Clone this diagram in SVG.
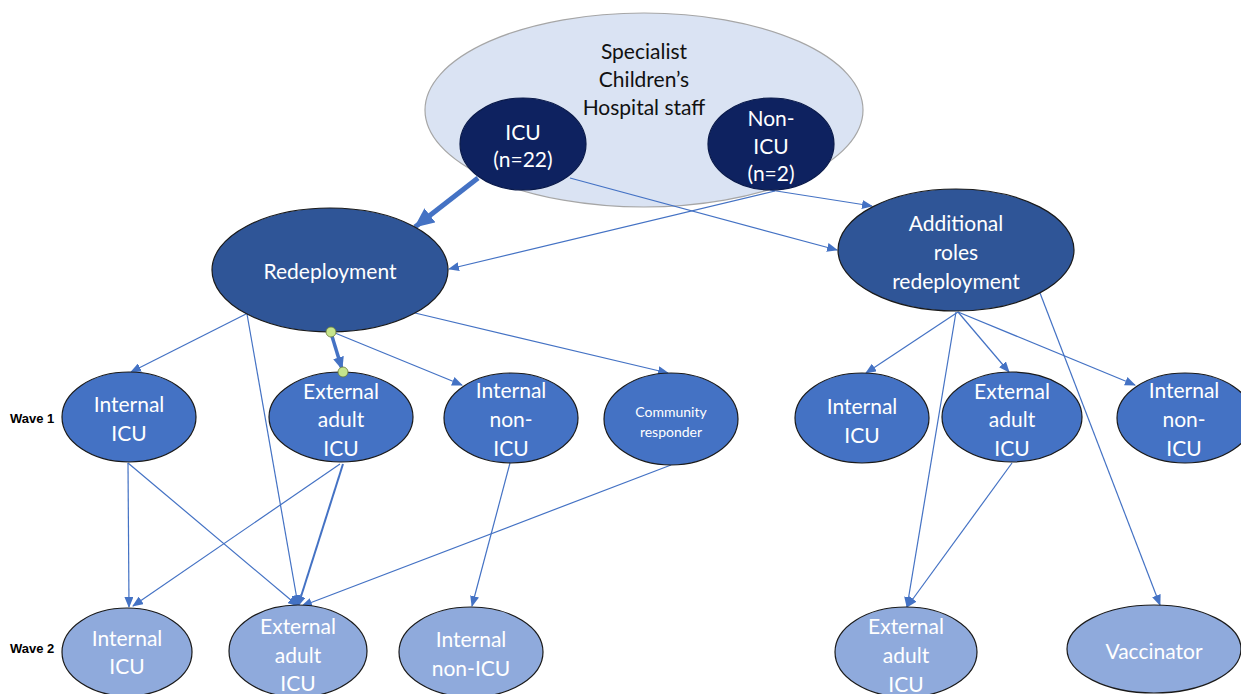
<svg xmlns="http://www.w3.org/2000/svg" width="1241" height="694" viewBox="0 0 1241 694">
<defs>
<marker id="a" markerUnits="userSpaceOnUse" markerWidth="11" markerHeight="9" refX="10" refY="4.5" orient="auto"><path d="M0,0 L11,4.5 L0,9 z" fill="#4472c4"/></marker>
<marker id="am" markerUnits="userSpaceOnUse" markerWidth="13" markerHeight="11" refX="12" refY="5.5" orient="auto"><path d="M0,0 L13,5.5 L0,11 z" fill="#4472c4"/></marker>
<marker id="ab" markerUnits="userSpaceOnUse" markerWidth="20" markerHeight="18" refX="19" refY="9" orient="auto"><path d="M0,0 L20,9 L0,18 z" fill="#4472c4"/></marker>
</defs>
<style>
text{font-family:Lato,"Open Sans","Liberation Sans",sans-serif;text-anchor:middle;dominant-baseline:central}
.w{fill:#ffffff;font-size:21px}
.k{fill:#111111;font-size:21px}
.cr{fill:#ffffff;font-size:14px}
.lab{font-family:"Liberation Sans",Arial,sans-serif;font-weight:bold;font-size:13px;fill:#000;text-anchor:start}
.nv{fill:#0e2260;stroke:#0a1a4a;stroke-width:1.2}
.rd{fill:#2f5597;stroke:#1a1a1a;stroke-width:1.2}
.w1{fill:#4472c4;stroke:#1a1a1a;stroke-width:1.2}
.w2{fill:#8faadc;stroke:#1a1a1a;stroke-width:1.2}
.c{stroke:#4472c4;stroke-width:1.2;fill:none;marker-end:url(#a)}
</style>
<rect width="1241" height="694" fill="#ffffff"/>

<g id="specialist">
<ellipse cx="644" cy="110" rx="219" ry="97" fill="#dae3f3" stroke="#a6a6a6" stroke-width="1.2"/>
<text class="k" x="644" y="50">Specialist</text>
<text class="k" x="644" y="78">Children’s</text>
<text class="k" x="644" y="106">Hospital staff</text>
</g>

<g id="connectors">
<line x1="478" y1="178" x2="415" y2="227" stroke="#4472c4" stroke-width="5" marker-end="url(#ab)"/>
<line class="c" x1="570" y1="178" x2="837" y2="250"/>
<line class="c" x1="770" y1="190" x2="872" y2="206"/>
<line class="c" x1="775" y1="191" x2="449" y2="269"/>
<line class="c" x1="246" y1="314" x2="131" y2="372"/>
<line class="c" x1="247" y1="314" x2="298" y2="605"/>
<line x1="331" y1="333" x2="342" y2="369" stroke="#4472c4" stroke-width="3.5" marker-end="url(#am)"/>
<line class="c" x1="335" y1="333" x2="462" y2="385"/>
<line class="c" x1="415" y1="313" x2="668" y2="373"/>
<line class="c" x1="128" y1="463" x2="129" y2="607"/>
<line class="c" x1="128" y1="463" x2="298" y2="606"/>
<line class="c" x1="340" y1="464" x2="133" y2="606"/>
<line x1="343" y1="464" x2="298" y2="606" stroke="#4472c4" stroke-width="2" marker-end="url(#a)"/>
<line class="c" x1="671" y1="465" x2="302" y2="606"/>
<line class="c" x1="510" y1="463" x2="472" y2="606"/>
<line class="c" x1="958" y1="312" x2="866" y2="373"/>
<line class="c" x1="958" y1="312" x2="1009" y2="372"/>
<line class="c" x1="958" y1="312" x2="1135" y2="385"/>
<line class="c" x1="956" y1="312" x2="907" y2="607"/>
<line class="c" x1="1012" y1="463" x2="907" y2="607"/>
<line class="c" x1="1040" y1="293" x2="1160" y2="605"/>
</g>

<g id="icu">
<ellipse class="nv" cx="523" cy="144" rx="63" ry="46"/>
<text class="w" x="523" y="131">ICU</text>
<text class="w" x="523" y="158">(n=22)</text>
</g>
<g id="nonicu">
<ellipse class="nv" cx="771" cy="144" rx="63" ry="46"/>
<text class="w" x="771" y="117">Non-</text>
<text class="w" x="771" y="145">ICU</text>
<text class="w" x="771" y="172">(n=2)</text>
</g>

<g id="redeployment">
<ellipse class="rd" cx="330" cy="270" rx="118" ry="62"/>
<text class="w" x="330" y="270">Redeployment</text>
</g>
<g id="additional">
<ellipse class="rd" cx="956" cy="250" rx="118" ry="61"/>
<text class="w" x="956" y="222">Additional</text>
<text class="w" x="956" y="251">roles</text>
<text class="w" x="956" y="280">redeployment</text>
</g>

<g id="w1-internal-icu">
<ellipse class="w1" cx="129" cy="417" rx="67" ry="45"/>
<text class="w" x="129" y="403">Internal</text>
<text class="w" x="129" y="432">ICU</text>
</g>
<g id="w1-external-adult-icu">
<ellipse class="w1" cx="341" cy="417" rx="72" ry="45"/>
<text class="w" x="341" y="390">External</text>
<text class="w" x="341" y="418">adult</text>
<text class="w" x="341" y="447">ICU</text>
</g>
<g id="w1-internal-non-icu">
<ellipse class="w1" cx="511" cy="418" rx="67" ry="45"/>
<text class="w" x="511" y="389">Internal</text>
<text class="w" x="511" y="418">non-</text>
<text class="w" x="511" y="447">ICU</text>
</g>
<g id="w1-community">
<ellipse class="w1" cx="671" cy="419" rx="67" ry="46"/>
<text class="cr" x="671" y="411">Community</text>
<text class="cr" x="671" y="431">responder</text>
</g>
<g id="r1-internal-icu">
<ellipse class="w1" cx="862" cy="418" rx="67" ry="45"/>
<text class="w" x="862" y="405">Internal</text>
<text class="w" x="862" y="434">ICU</text>
</g>
<g id="r1-external-adult-icu">
<ellipse class="w1" cx="1012" cy="417" rx="70" ry="45"/>
<text class="w" x="1012" y="390">External</text>
<text class="w" x="1012" y="418">adult</text>
<text class="w" x="1012" y="447">ICU</text>
</g>
<g id="r1-internal-non-icu">
<ellipse class="w1" cx="1185" cy="418" rx="68" ry="45"/>
<text class="w" x="1184" y="389">Internal</text>
<text class="w" x="1184" y="418">non-</text>
<text class="w" x="1184" y="447">ICU</text>
</g>

<g id="w2-internal-icu">
<ellipse class="w2" cx="127" cy="652" rx="65" ry="44"/>
<text class="w" x="127" y="637">Internal</text>
<text class="w" x="127" y="665">ICU</text>
</g>
<g id="w2-external-adult-icu">
<ellipse class="w2" cx="298" cy="651" rx="69" ry="46"/>
<text class="w" x="298" y="625">External</text>
<text class="w" x="298" y="654">adult</text>
<text class="w" x="298" y="682">ICU</text>
</g>
<g id="w2-internal-non-icu">
<ellipse class="w2" cx="471" cy="652" rx="72" ry="45"/>
<text class="w" x="471" y="638">Internal</text>
<text class="w" x="471" y="667">non-ICU</text>
</g>
<g id="r2-external-adult-icu">
<ellipse class="w2" cx="906" cy="652" rx="71" ry="45"/>
<text class="w" x="906" y="625">External</text>
<text class="w" x="906" y="654">adult</text>
<text class="w" x="906" y="683">ICU</text>
</g>
<g id="r2-vaccinator">
<ellipse class="w2" cx="1154" cy="649" rx="87" ry="44"/>
<text class="w" x="1154" y="650">Vaccinator</text>
</g>

<g id="handles">
<circle cx="331" cy="332" r="5" fill="#c6e58c" stroke="#6b7b3a" stroke-width="0.8"/>
<circle cx="343" cy="372" r="5" fill="#c6e58c" stroke="#6b7b3a" stroke-width="0.8"/>
</g>

<g id="labels">
<text class="lab" x="10" y="418">Wave 1</text>
<text class="lab" x="10" y="648">Wave 2</text>
</g>
</svg>
